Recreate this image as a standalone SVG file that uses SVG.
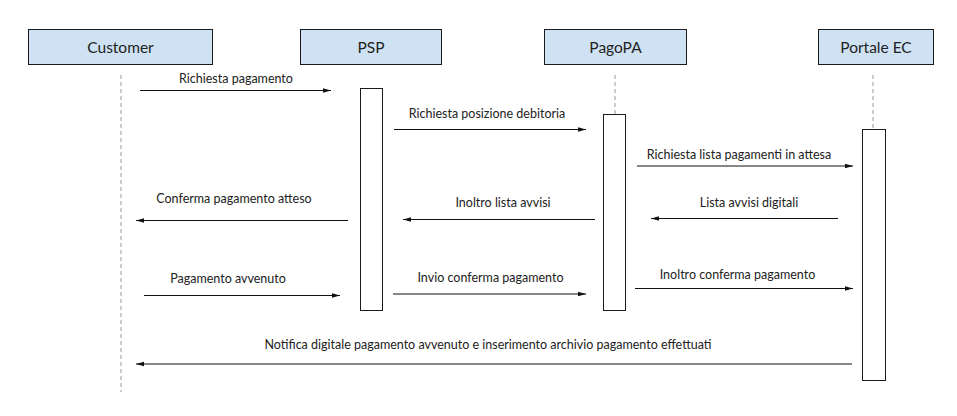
<svg xmlns="http://www.w3.org/2000/svg" width="957" height="416" viewBox="0 0 957 416">
<defs>
<style>
.actor{fill:#cfe2f3;stroke:#1a1a1a;stroke-width:1}
.hdr{font-family:Lato,"Liberation Sans",sans-serif;font-size:15.5px;fill:#222;text-anchor:middle}
.life{stroke:#9a9a9a;stroke-width:1;stroke-dasharray:4,3;fill:none}
.act{fill:#fff;stroke:#1a1a1a;stroke-width:1}
.msg{stroke:#111;stroke-width:1;fill:none;marker-end:url(#ah)}
.lbl{font-family:Lato,"Liberation Sans",sans-serif;font-size:12.5px;fill:#222;text-anchor:middle}
</style>
<marker id="ah" markerWidth="8" markerHeight="6" refX="8" refY="3" orient="auto" markerUnits="userSpaceOnUse">
<path d="M0,0.8 L8,3 L0,5.2 Z" fill="#111"/>
</marker>
</defs>
<rect width="957" height="416" fill="#fff"/>
<g id="customer">
<rect class="actor" x="28.5" y="29.5" width="184" height="35"/>
<text class="hdr" x="120.5" y="53">Customer</text>
<line class="life" x1="121" y1="75" x2="121" y2="392"/>
</g>
<g id="psp">
<rect class="actor" x="300.5" y="29.5" width="141" height="35"/>
<text class="hdr" x="371" y="53">PSP</text>
<rect class="act" x="360.5" y="88.5" width="22" height="222"/>
</g>
<g id="pagopa">
<rect class="actor" x="544.5" y="29.5" width="142" height="35"/>
<text class="hdr" x="615.5" y="53">PagoPA</text>
<line class="life" x1="615" y1="75" x2="615" y2="114"/>
<rect class="act" x="603.5" y="114.5" width="22" height="196"/>
</g>
<g id="portale">
<rect class="actor" x="818.5" y="29.5" width="115" height="35"/>
<text class="hdr" x="876" y="53">Portale EC</text>
<line class="life" x1="873" y1="75" x2="873" y2="129"/>
<rect class="act" x="862.5" y="129.5" width="23" height="251"/>
</g>
<g id="connectors">
<line class="msg" x1="140" y1="90.5" x2="331" y2="90.5"/>
<text class="lbl" x="236" y="83">Richiesta pagamento</text>
<line class="msg" x1="394" y1="129.5" x2="586" y2="129.5"/>
<text class="lbl" x="487" y="118">Richiesta posizione debitoria</text>
<line class="msg" x1="637" y1="166" x2="853" y2="166"/>
<text class="lbl" x="739" y="159">Richiesta lista pagamenti in attesa</text>
<line class="msg" x1="348" y1="220.5" x2="136" y2="220.5"/>
<text class="lbl" x="234" y="203">Conferma pagamento atteso</text>
<line class="msg" x1="595" y1="219.5" x2="403" y2="219.5"/>
<text class="lbl" x="503" y="207">Inoltro lista avvisi</text>
<line class="msg" x1="838" y1="218.5" x2="651" y2="218.5"/>
<text class="lbl" x="749" y="207">Lista avvisi digitali</text>
<line class="msg" x1="144" y1="295.5" x2="340" y2="295.5"/>
<text class="lbl" x="228" y="283">Pagamento avvenuto</text>
<line class="msg" x1="393" y1="294" x2="586" y2="294"/>
<text class="lbl" x="490.5" y="282">Invio conferma pagamento</text>
<line class="msg" x1="635" y1="288.5" x2="853" y2="288.5"/>
<text class="lbl" x="737.5" y="279">Inoltro conferma pagamento</text>
<line class="msg" x1="852" y1="364" x2="136" y2="364"/>
<text class="lbl" x="488" y="349">Notifica digitale pagamento avvenuto e inserimento archivio pagamento effettuati</text>
</g>
</svg>
